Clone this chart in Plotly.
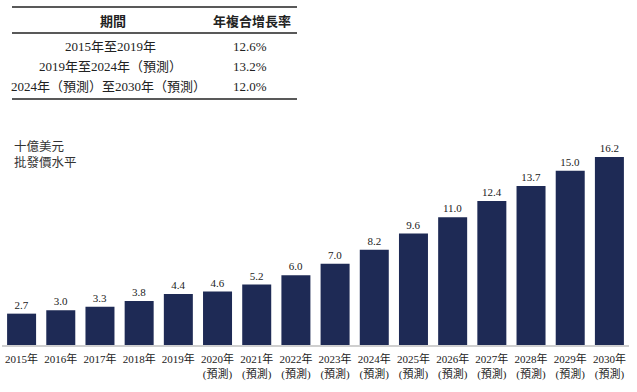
import plotly.graph_objects as go

years = ["2015", "2016", "2017", "2018", "2019", "2020", "2021", "2022",
         "2023", "2024", "2025", "2026", "2027", "2028", "2029", "2030"]
values = [2.7, 3.0, 3.3, 3.8, 4.4, 4.6, 5.2, 6.0, 7.0, 8.2, 9.6, 11.0, 12.4, 13.7, 15.0, 16.2]
forecast_from = "2020"
tick_labels = [f"{y}年" if y < forecast_from else f"{y}年<br>(預測)" for y in years]

table_header = ["期間", "年複合增長率"]
table_periods = ["2015年至2019年", "2019年至2024年（預測）", "2024年（預測）至2030年（預測）"]
table_cagr = ["12.6%", "13.2%", "12.0%"]
unit_lines = ["十億美元", "批發價水平"]

W, H = 637, 392
ml, mr, mt, mb = 2, 8, 136, 47
pw, ph = W - ml - mr, H - mt - mb

def px(x):
    return (x - ml) / pw

def py(y):
    return (H - mb - y) / ph

SERIF = "Liberation Serif, Noto Sans CJK TC, serif"
SANS = "Noto Sans CJK TC, sans-serif"
BAR = "#1e2a55"

fig = go.Figure(go.Bar(
    x=years, y=values,
    marker=dict(color=BAR, line=dict(width=0)),
    text=[f"{v:.1f}" for v in values],
    textposition="outside",
    textfont=dict(family=SERIF, size=11, color="#222"),
    cliponaxis=False,
    width=0.74,
))

def ann(text, x, y, size, family, xanchor="center", color="#222", align="center"):
    return dict(text=text, x=px(x), y=py(y), xref="paper", yref="paper",
                xanchor=xanchor, yanchor="middle", showarrow=False, align=align,
                font=dict(family=family, size=size, color=color))

annotations = [
    ann("<b>" + table_header[0] + "</b>", 113, 20, 13, SANS),
    ann("<b>" + table_header[1] + "</b>", 252, 20, 13, SANS),
]
for i, (p, c) in enumerate(zip(table_periods, table_cagr)):
    yy = 46 + i * 20
    annotations.append(ann(p, 108 if i == 2 else 110, yy, 13, SERIF))
    annotations.append(ann(c, 250, yy, 13, SERIF))
annotations.append(ann("<br>".join(unit_lines), 12, 153.5, 12.5, SANS,
                       xanchor="left", color="#333", align="left"))

shapes = []
for yy, w in [(7, 1.5), (33, 1.5), (99, 1.5)]:
    shapes.append(dict(type="line", xref="paper", yref="paper", x0=px(12), x1=px(297),
                       y0=py(yy), y1=py(yy), line=dict(color="#222", width=w)))

fig.update_layout(
    width=W, height=H,
    margin=dict(l=ml, r=mr, t=mt, b=mb, autoexpand=False),
    paper_bgcolor="white", plot_bgcolor="white",
    showlegend=False,
    bargap=0.26,
    annotations=annotations,
    shapes=shapes,
    xaxis=dict(tickvals=years, ticktext=tick_labels, showline=True, linecolor="#cfcfcf",
               linewidth=2, showgrid=False, zeroline=False, ticks="", tickangle=0,
               automargin=False, ticklabelstandoff=3,
               tickfont=dict(family=SERIF, size=11, color="#222")),
    yaxis=dict(range=[0, 18], visible=False, showgrid=False, zeroline=False, automargin=False),
)

fig.write_html("out.html", config={"displayModeBar": False},
               post_script="document.body.style.margin='0';")
